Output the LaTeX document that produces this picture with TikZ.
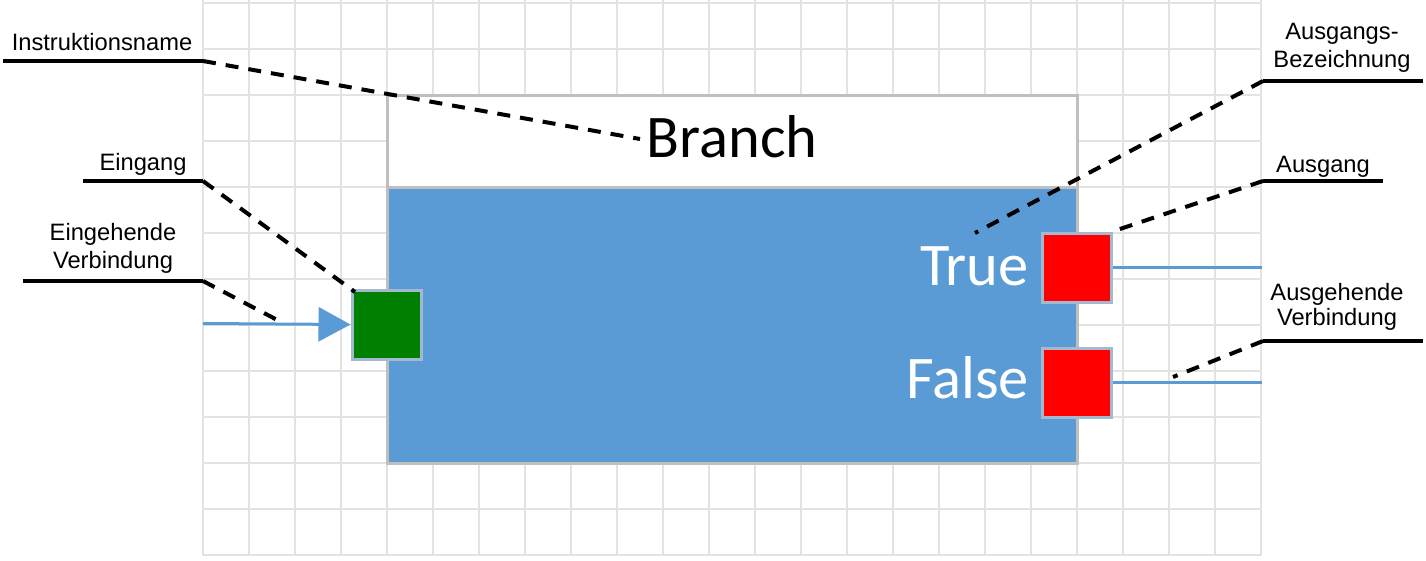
\documentclass[tikz,border=0pt]{standalone}
\usepackage{fontspec}
\setmainfont{Liberation Sans}
\newfontfamily\calibfont{Carlito}
\usetikzlibrary{arrows.meta}
\definecolor{gridc}{HTML}{E3E3E3}
\definecolor{blockblue}{HTML}{5B9BD5}
\definecolor{bordergray}{HTML}{BFBFBF}
\definecolor{portborder}{HTML}{A3B9CF}
\definecolor{portgreen}{HTML}{008000}
\definecolor{portred}{HTML}{FF0000}
\begin{document}
\begin{tikzpicture}[x=1pt,y=-1pt,
  gridline/.style={gridc,line width=2pt},
  titlebox/.style={draw=bordergray,line width=3pt,fill=white,minimum width=690pt,minimum height=92pt,inner sep=0pt},
  bodybox/.style={draw=bordergray,line width=3pt,fill=blockblue,minimum width=690pt,minimum height=276pt,inner sep=0pt},
  portbox/.style={draw=portborder,line width=3pt,minimum size=69pt,inner sep=0pt},
  bigtext/.style={font=\calibfont\fontsize{60.5}{62}\selectfont,inner sep=0pt},
  conn/.style={blockblue,line width=3pt},
  lbl/.style={font=\fontsize{23.7}{27}\selectfont,inner sep=0pt,align=center},
  underline/.style={black,line width=4pt},
  leader/.style={black,line width=4pt,dash pattern=on 13pt off 10pt}
]
\useasboundingbox (0,0) rectangle (1426,560);
\fill[white] (0,0) rectangle (1426,560);
% grid
\foreach \i in {0,...,23} \draw[gridline] (203+46*\i,0) -- (203+46*\i,556);
\foreach \j in {0,...,12} \draw[gridline] (203,3+46*\j) -- (1261,3+46*\j);
% block
\node[titlebox] (title) at (732,141) {};
\node[bodybox] (body) at (732,325) {};
\node[bigtext,anchor=base] (branch) at (732,157) {Branch};
\node[bigtext,text=white,anchor=base east] (truelbl) at (1029,285) {True};
\node[bigtext,text=white,anchor=base east] (falselbl) at (1029,398) {False};
% connections
\coordinate (inbegin) at (203,323.5);
\coordinate (outtrueend) at (1262,267.5);
\coordinate (outfalseend) at (1262,382.5);
\node[portbox,fill=portgreen] (inport) at (386.5,324.5) {};
\node[portbox,fill=portred] (outtrue) at (1077,267.5) {};
\node[portbox,fill=portred] (outfalse) at (1077,382.5) {};
\draw[conn,-{Triangle[length=32pt,width=34pt]}] (inbegin) -- (inport.west);
\draw[conn] (outtrue.east) -- (outtrueend);
\draw[conn] (outfalse.east) -- (outfalseend);
% labels
\node[lbl,anchor=base] (instlbl) at (102,50) {Instruktionsname};
\coordinate (instA) at (3,61); \coordinate (instB) at (203,61); \coordinate (instC) at (640,139);
\draw[underline] (instA) -- (instB);
\draw[leader] (instB) -- (instC);

\node[lbl,anchor=base] (einlbl) at (143,170) {Eingang};
\coordinate (einA) at (83,181); \coordinate (einB) at (203,181); \coordinate (einC) at (355,292);
\draw[underline] (einA) -- (einB);
\draw[leader] (einB) -- (einC);

\node[lbl,anchor=base,font=\fontsize{23.7}{28}\selectfont] (evlbl) at (113,268) {Eingehende\\Verbindung};
\coordinate (evA) at (23,281); \coordinate (evB) at (203,281); \coordinate (evC) at (283,323);
\draw[underline] (evA) -- (evB);
\draw[leader] (evB) -- (evC);

\node[lbl,anchor=base,font=\fontsize{23.7}{28}\selectfont] (ablbl) at (1342,67) {Ausgangs-\\Bezeichnung};
\coordinate (abA) at (1423,81); \coordinate (abB) at (1263,81); \coordinate (abC) at (975,233);
\draw[underline] (abA) -- (abB);
\draw[leader] (abB) -- (abC);

\node[lbl,anchor=base] (auslbl) at (1323,172) {Ausgang};
\coordinate (ausA) at (1383,181); \coordinate (ausB) at (1263,181); \coordinate (ausC) at (1117,230);
\draw[underline] (ausA) -- (ausB);
\draw[leader] (ausB) -- (ausC);

\node[lbl,anchor=base,font=\fontsize{23.7}{25}\selectfont] (avlbl) at (1337,325) {Ausgehende\\Verbindung};
\coordinate (avA) at (1423,341); \coordinate (avB) at (1263,341); \coordinate (avC) at (1173,377);
\draw[underline] (avA) -- (avB);
\draw[leader] (avB) -- (avC);
\end{tikzpicture}
\end{document}
